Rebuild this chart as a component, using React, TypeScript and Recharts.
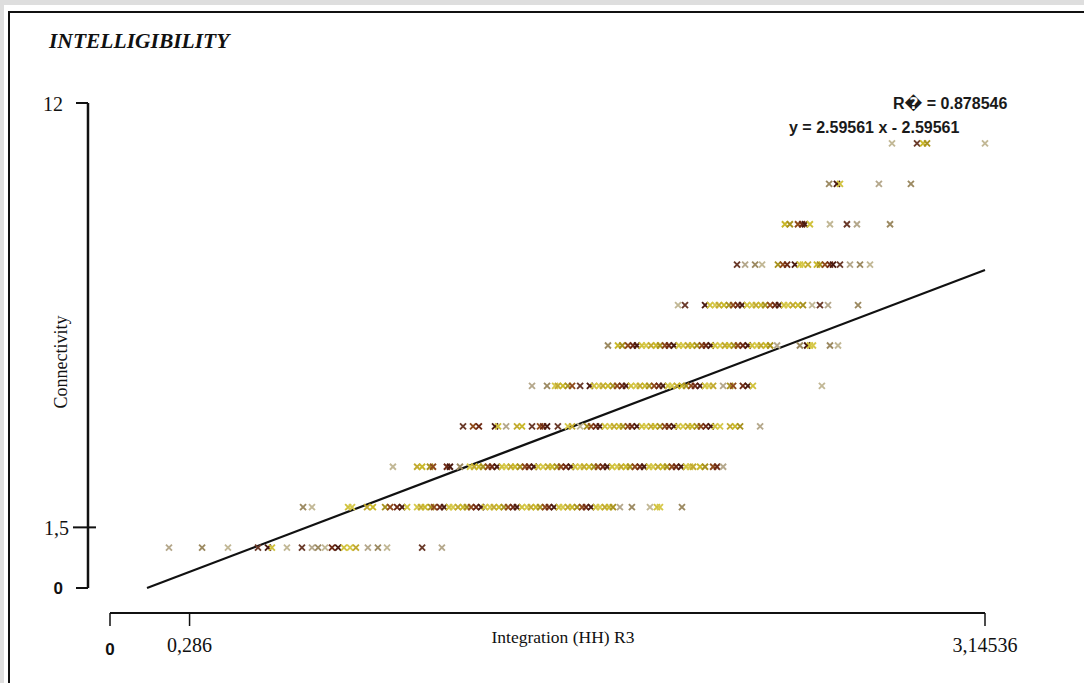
import React from "react";
import {
	ReferenceLine,
	Scatter,
	ScatterChart,
	XAxis,
	YAxis,
} from "recharts";

// Integration (HH) R3 values for each connectivity level
const ROW_1 = [0.212, 0.331, 0.424, 0.532, 0.568, 0.582, 0.636, 0.69, 0.726, 0.748, 0.773, 0.798, 0.82, 0.841, 0.863, 0.884, 0.927, 0.963, 0.996, 1.122, 1.193];
const ROW_2 = [0.694, 0.726, 0.856, 0.87, 0.924, 0.945, 0.989, 1.007, 1.032, 1.05, 1.068, 1.104, 1.118, 1.132, 1.154, 1.165, 1.186, 1.201, 1.219, 1.233, 1.251, 1.269, 1.283, 1.298, 1.316, 1.334, 1.348, 1.366, 1.38, 1.398, 1.416, 1.431, 1.449, 1.463, 1.481, 1.499, 1.513, 1.531, 1.546, 1.564, 1.578, 1.596, 1.614, 1.628, 1.646, 1.661, 1.679, 1.697, 1.711, 1.729, 1.747, 1.761, 1.779, 1.794, 1.808, 1.833, 1.876, 1.941, 1.966, 1.977, 2.056];
const ROW_3 = [1.017, 1.104, 1.122, 1.15, 1.161, 1.211, 1.222, 1.258, 1.294, 1.309, 1.326, 1.341, 1.359, 1.373, 1.391, 1.409, 1.424, 1.441, 1.456, 1.474, 1.492, 1.506, 1.524, 1.539, 1.557, 1.575, 1.589, 1.607, 1.621, 1.639, 1.657, 1.672, 1.69, 1.704, 1.722, 1.74, 1.754, 1.772, 1.787, 1.805, 1.823, 1.837, 1.855, 1.869, 1.887, 1.905, 1.92, 1.938, 1.952, 1.97, 1.988, 2.002, 2.02, 2.035, 2.053, 2.071, 2.085, 2.096, 2.121, 2.139, 2.168, 2.182, 2.204];
const ROW_4 = [1.269, 1.305, 1.326, 1.384, 1.395, 1.424, 1.463, 1.481, 1.517, 1.546, 1.557, 1.571, 1.61, 1.646, 1.661, 1.69, 1.715, 1.729, 1.747, 1.761, 1.779, 1.797, 1.812, 1.83, 1.844, 1.862, 1.876, 1.894, 1.912, 1.927, 1.945, 1.959, 1.977, 1.995, 2.009, 2.027, 2.042, 2.06, 2.078, 2.092, 2.11, 2.124, 2.142, 2.16, 2.175, 2.193, 2.229, 2.247, 2.265, 2.337];
const ROW_5 = [1.517, 1.571, 1.6, 1.61, 1.628, 1.646, 1.661, 1.69, 1.725, 1.74, 1.758, 1.772, 1.79, 1.808, 1.823, 1.841, 1.855, 1.873, 1.891, 1.905, 1.923, 1.938, 1.956, 1.973, 1.988, 2.006, 2.02, 2.038, 2.056, 2.071, 2.089, 2.103, 2.121, 2.139, 2.153, 2.168, 2.204, 2.229, 2.24, 2.275, 2.293, 2.311, 2.559];
const ROW_6 = [1.79, 1.826, 1.841, 1.862, 1.88, 1.894, 1.912, 1.927, 1.945, 1.963, 1.977, 1.995, 2.009, 2.027, 2.045, 2.06, 2.078, 2.092, 2.11, 2.128, 2.142, 2.16, 2.175, 2.193, 2.211, 2.225, 2.243, 2.257, 2.275, 2.293, 2.308, 2.326, 2.34, 2.358, 2.373, 2.398, 2.48, 2.506, 2.516, 2.527, 2.588, 2.617];
const ROW_7 = [2.042, 2.067, 2.139, 2.157, 2.175, 2.189, 2.207, 2.225, 2.24, 2.257, 2.272, 2.29, 2.308, 2.322, 2.34, 2.355, 2.373, 2.391, 2.405, 2.423, 2.437, 2.455, 2.473, 2.491, 2.524, 2.552, 2.581, 2.689];
const ROW_8 = [2.254, 2.283, 2.319, 2.344, 2.401, 2.419, 2.434, 2.462, 2.48, 2.491, 2.509, 2.541, 2.552, 2.57, 2.588, 2.599, 2.624, 2.66, 2.696, 2.732];
const ROW_9 = [2.426, 2.444, 2.473, 2.488, 2.498, 2.516, 2.588, 2.649, 2.685, 2.804];
const ROW_10 = [2.585, 2.613, 2.624, 2.764, 2.879];
const ROW_11 = [2.811, 2.901, 2.923, 2.937, 3.14536];

const ROWS = [ROW_1, ROW_2, ROW_3, ROW_4, ROW_5, ROW_6, ROW_7, ROW_8, ROW_9, ROW_10, ROW_11];

const X_TICKS = [0, 0.286, 3.14536];
const Y_TICKS = [0, 1.5, 12];

// regression line as drawn (end points)
const TREND_LINE = [
	{ x: 0.133, y: 0 },
	{ x: 3.14536, y: 7.87 },
];

const R2_TEXT = "R\uFFFD = 0.878546";
const EQUATION_TEXT = "y = 2.59561 x - 2.59561";

const DENSE_COLORS = ["#c9b82a", "#6e2a14", "#d6c84a", "#a8921f", "#4a1a10", "#c2aa30", "#8e4a1a", "#d1c23c"];
const SPARSE_COLORS = ["#b5a88c", "#9c8a62", "#c2b896", "#6a3a2a"];

const SERIF = "'Liberation Serif', 'DejaVu Serif', serif";
const SANS = "'Liberation Sans', 'DejaVu Sans', sans-serif";

const series = ROWS.map((row, r) =>
	row.map((x, i) => {
		const gap = Math.min(
			i > 0 ? x - row[i - 1] : 1,
			i < row.length - 1 ? row[i + 1] - x : 1,
		);
		const color =
			gap < 0.022
				? DENSE_COLORS[(i * 3 + r) % DENSE_COLORS.length]
				: SPARSE_COLORS[(i + r) % SPARSE_COLORS.length];
		return { x, y: r + 1, color };
	}),
);

const Cross = (props: any) => {
	const { cx, cy, payload } = props;
	const s = 3;
	return (
		<path
			d={`M${cx - s},${cy - s}L${cx + s},${cy + s}M${cx - s},${cy + s}L${cx + s},${cy - s}`}
			stroke={payload.color}
			strokeWidth={1.9}
			fill="none"
		/>
	);
};

const fmt = (v: number) => String(v).replace(".", ",");

const XTick = (props: any) => {
	const { x, y, payload } = props;
	if (payload.value === 0) {
		return (
			<text x={x} y={y} dy={27} textAnchor="middle" fontFamily={SANS} fontWeight="bold" fontSize={17} fill="#111">
				0
			</text>
		);
	}
	return (
		<text x={x} y={y} dy={24} textAnchor="middle" fontFamily={SERIF} fontSize={20} fill="#111">
			{fmt(payload.value)}
		</text>
	);
};

const YTick = (props: any) => {
	const { x, y, payload } = props;
	const axisX = x - 22;
	const v = payload.value;
	return (
		<g>
			<line
				x1={v === 1.5 ? axisX - 15 : axisX - 12}
				x2={v === 1.5 ? axisX + 8 : axisX}
				y1={y}
				y2={y}
				stroke="#111"
				strokeWidth={2}
			/>
			{v === 0 ? (
				<text x={axisX - 25} y={y} dy={6} textAnchor="end" fontFamily={SANS} fontWeight="bold" fontSize={17} fill="#111">
					0
				</text>
			) : (
				<text x={axisX - (v === 12 ? 25 : 19)} y={y} dy={8} textAnchor="end" fontFamily={SERIF} fontSize={20} fill="#111">
					{fmt(v)}
				</text>
			)}
		</g>
	);
};

export default function App() {
	return (
		<div style={{ position: "absolute", left: 0, top: 0, width: 1084, height: 683, background: "#fff", overflow: "hidden" }}>
			{/* frame */}
			<div style={{ position: "absolute", left: 0, top: 0, width: 1084, height: 5, background: "#dedede" }} />
			<div style={{ position: "absolute", left: 0, top: 0, width: 4, height: 683, background: "#dedede" }} />
			<div
				style={{
					position: "absolute",
					left: 8,
					top: 11,
					width: 1076,
					height: 672,
					borderLeft: "2px solid #111",
					borderTop: "2px solid #111",
				}}
			/>

			<ScatterChart
				width={1084}
				height={683}
				margin={{ top: 103, right: 99, bottom: 20, left: 50 }}
				style={{ position: "absolute", left: 0, top: 0 }}
			>
				<XAxis
					type="number"
					dataKey="x"
					domain={[0, 3.14536]}
					ticks={X_TICKS}
					height={50}
					axisLine={{ stroke: "#111", strokeWidth: 2 }}
					tickLine={{ stroke: "#111", strokeWidth: 1.5 }}
					tickSize={13}
					tickMargin={2}
					tick={<XTick />}
					interval={0}
				/>
				<YAxis
					type="number"
					dataKey="y"
					domain={[0, 12]}
					ticks={Y_TICKS}
					width={60}
					padding={{ bottom: 25 }}
					axisLine={false}
					tickLine={false}
					tickSize={0}
					tickMargin={0}
					tick={<YTick />}
					interval={0}
				/>
				{/* y axis line, set apart from the plot like in the original */}
				<ReferenceLine
					segment={[
						{ x: -0.0791, y: 0 },
						{ x: -0.0791, y: 12 },
					]}
					stroke="#111"
					strokeWidth={2.5}
					ifOverflow="visible"
				/>
				{series.map((data, i) => (
					<Scatter
						key={i}
						name={`Connectivity ${i + 1}`}
						data={data}
						shape={<Cross />}
						isAnimationActive={false}
					/>
				))}
				<ReferenceLine segment={TREND_LINE} stroke="#111" strokeWidth={2.2} ifOverflow="visible" />
			</ScatterChart>

			{/* texts */}
			<svg width={1084} height={683} style={{ position: "absolute", left: 0, top: 0, pointerEvents: "none" }}>
				<text x={49} y={48} fontFamily={SERIF} fontWeight="bold" fontStyle="italic" fontSize={21.5} fill="#111">
					INTELLIGIBILITY
				</text>
				<text x={893} y={109} fontFamily={SANS} fontWeight="bold" fontSize={16} fill="#1a1a1a">
					{R2_TEXT}
				</text>
				<text x={789} y={133} fontFamily={SANS} fontWeight="bold" fontSize={16} fill="#1a1a1a">
					{EQUATION_TEXT}
				</text>
				<text x={563} y={643} textAnchor="middle" fontFamily={SERIF} fontSize={17.5} fill="#111">
					Integration (HH) R3
				</text>
				<text
					x={0}
					y={0}
					transform="translate(67,362) rotate(-90)"
					textAnchor="middle"
					fontFamily={SERIF}
					fontSize={18}
					fill="#111"
				>
					Connectivity
				</text>
			</svg>
		</div>
	);
}
